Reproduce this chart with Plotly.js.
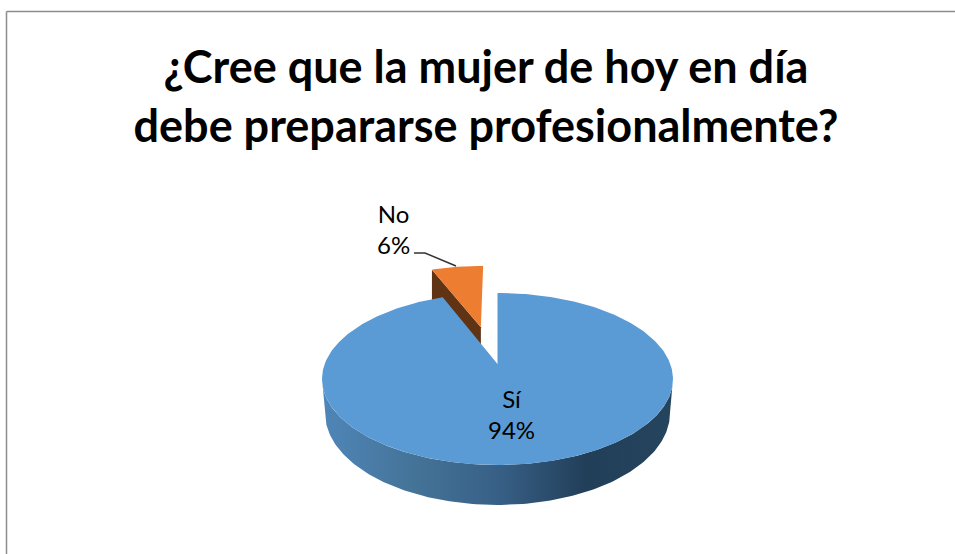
<!DOCTYPE html>
<html>
<head>
<meta charset="utf-8">
<script src="https://cdn.plot.ly/plotly-3.0.1.min.js"></script>
<style>html,body{margin:0;padding:0;background:#fff}#chart{width:955px;height:554px}</style>
</head>
<body>
<div id="chart"></div>
<script>
const categories = ["Sí", "No"];
const shares = [94, 6];
const chartTitle = "¿Cree que la mujer de hoy en día<br>debe prepararse profesionalmente?";

const sliceColors = ["#5B9BD5", "#ED7D31"];
const sliceSideColor = "#5F3314";
const wallGradient = [[0,"#4F86B8"],[0.25,"#457499"],[0.5,"#386087"],[0.75,"#223F59"],[1,"#25445E"]];

// Tilted-disc view used to place the pie on the axes
const view = {cx:497.5, cy:364, A:172.8, B:83.4, p:-0.174, depth:33, shrink:0.983, pull:0.49, pullTurn:-1.5};

function project(deg, radius, pull, lower, midDeg, depthScale) {
  const t = deg*Math.PI/180, m = midDeg*Math.PI/180;
  const u = radius*Math.sin(t) + pull*Math.sin(m);
  const v = -radius*Math.cos(t) - pull*Math.cos(m);
  const d = 1 + view.p*v;
  return [
    view.cx + (lower && !depthScale ? view.shrink : 1)*view.A*u/d,
    view.cy + (view.B*v + (lower ? view.depth*(depthScale||1) : 0))/d
  ];
}
function arc(from, to, pull, lower, midDeg) {
  const pts = [], n = Math.max(2, Math.ceil(Math.abs(to-from)));
  for (let i = 0; i <= n; i++) pts.push(project(from+(to-from)*i/n, 1, pull, lower, midDeg));
  return pts;
}
function poly(pts, color, name, extra) {
  return Object.assign({
    type:"scatter", mode:"lines", x:pts.map(p=>p[0]), y:pts.map(p=>p[1]),
    fill:"toself", fillcolor:color, line:{width:0, color:color}, name:name,
    hoverinfo:"name", showlegend:false
  }, extra||{});
}

const total = shares.reduce((a,b)=>a+b,0);
const siEnd = 360*shares[0]/total;
const noMid = (siEnd+360)/2 + view.pullTurn;

const noApexTop = project(0,0,view.pull,false,noMid);
const noApexLow = project(0,0,view.pull,true,noMid,1.3);
const noRimTop = project(siEnd,1,view.pull,false,noMid);
const noRimLow = project(siEnd,1,view.pull,true,noMid,1.3);
const siApex = project(0,0,0,false,0);

const traces = [
  poly([noApexTop,noRimTop,noRimLow,noApexLow,noApexTop], sliceSideColor, categories[1]),
  poly([noApexTop].concat(arc(siEnd,360,view.pull,false,noMid),[noApexTop]), sliceColors[1], categories[1]),
  poly(arc(100,260,0,false,0).concat(arc(260,100,0,true,0)), "#3F6B93", categories[0],
       {fillgradient:{type:"horizontal", colorscale:wallGradient}}),
  poly([siApex].concat(arc(0,siEnd,0,false,0),[siApex]), sliceColors[0], categories[0])
];

const leader = [[414,253],[425,253],[456,266]];
traces.push({type:"scatter", mode:"lines", x:leader.map(p=>p[0]), y:leader.map(p=>p[1]),
  line:{color:"#333333", width:1.5}, hoverinfo:"skip", showlegend:false});

const labelFont = {family:"Lato, 'Open Sans', sans-serif", size:24, color:"#000"};
const annotations = [
  {text:categories[1]+"<br>"+shares[1]+"%", x:393.5, y:229, xref:"x", yref:"y", showarrow:false, font:labelFont, align:"center"},
  {text:categories[0]+"<br>"+shares[0]+"%", x:511.5, y:414, xref:"x", yref:"y", showarrow:false, font:labelFont, align:"center"}
];

const layout = {
  width:955, height:554, margin:{l:0,r:0,t:0,b:0},
  paper_bgcolor:"#fff", plot_bgcolor:"#fff", showlegend:false,
  title:{text:chartTitle, x:486/955, xanchor:"center", y:1-83/554, yanchor:"top",
         font:{family:"Lato, 'Open Sans', sans-serif", size:45, color:"#000", weight:700}},
  xaxis:{range:[0,955], visible:false, fixedrange:true},
  yaxis:{range:[554,0], visible:false, fixedrange:true},
  annotations:annotations,
  shapes:[
    {type:"line", xref:"x", yref:"y", x0:6.5, x1:955, y0:11.5, y1:11.5, line:{color:"#8c8c8c", width:1.5}},
    {type:"line", xref:"x", yref:"y", x0:6.5, x1:6.5, y0:11.5, y1:554, line:{color:"#8c8c8c", width:1.5}}
  ]
};
Plotly.newPlot("chart", traces, layout, {displayModeBar:false, responsive:false});
</script>
</body>
</html>
